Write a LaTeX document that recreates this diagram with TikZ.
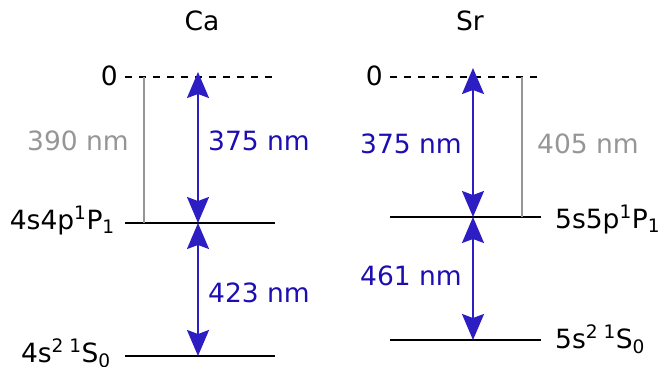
\documentclass[tikz,border=0pt]{standalone}
\usepackage{fontspec}
\setmainfont{DejaVu Sans}
\usetikzlibrary{arrows.meta}
\definecolor{arrblue}{RGB}{45,30,195}
\definecolor{txtblue}{RGB}{28,14,176}
\definecolor{lgray}{RGB}{150,150,150}
\tikzset{
  level/.style={line width=2pt, black},
  zerolevel/.style={line width=1.6pt, black, dash pattern=on 7pt off 7pt},
  trans/.style={line width=2pt, arrblue, >={Stealth[length=26pt,width=22pt,inset=4pt]}, <->},
  grayline/.style={line width=2pt, lgray},
  lbl/.style={inner sep=0pt, font=\fontsize{26.5}{30}\selectfont},
  bluelbl/.style={lbl, text=txtblue},
  graylbl/.style={lbl, text=lgray},
}
\begin{document}
\begin{tikzpicture}[x=1pt,y=-1pt]
\useasboundingbox (0,0) rectangle (659,367);
% ---------- Ca ----------
\node[lbl, anchor=base] (ca) at (202,30) {Ca};
\coordinate (caZl) at (125,77); \coordinate (caZr) at (275,77);
\coordinate (caPl) at (125,223); \coordinate (caPr) at (275,223);
\coordinate (caSl) at (125,356); \coordinate (caSr) at (275,356);
\coordinate (caAtop) at (198,72); \coordinate (caAmid) at (198,223); \coordinate (caAbot) at (198,356);
\coordinate (caGtop) at (144,77); \coordinate (caGbot) at (144,223);
\draw[zerolevel] (caZl) -- (caZr);
\draw[level] (caPl) -- (caPr);
\draw[level] (caSl) -- (caSr);
\draw[grayline] (caGtop) -- (caGbot);
\draw[trans] (caAtop) -- (caAmid);
\draw[trans] (caAmid) -- (caAbot);
\node[lbl, anchor=base east] (caZ) at (118,85) {0};
\node[lbl, anchor=base east] (caP) at (115,229) {4s4p\textsuperscript{1}P\textsubscript{1}};
\node[lbl, anchor=base east] (caS) at (111,362) {4s\textsuperscript{2 1}S\textsubscript{0}};
\node[graylbl, anchor=base east] (ca390) at (129,150) {390 nm};
\node[bluelbl, anchor=base west] (ca375) at (208,150) {375 nm};
\node[bluelbl, anchor=base west] (ca423) at (208,302) {423 nm};
% ---------- Sr ----------
\node[lbl, anchor=base] (sr) at (470,30) {Sr};
\coordinate (srZl) at (390,77); \coordinate (srZr) at (541,77);
\coordinate (srPl) at (390,217); \coordinate (srPr) at (541,217);
\coordinate (srSl) at (390,340); \coordinate (srSr) at (541,340);
\coordinate (srAtop) at (473,68); \coordinate (srAmid) at (473,217); \coordinate (srAbot) at (473,340);
\coordinate (srGtop) at (522,77); \coordinate (srGbot) at (522,217);
\draw[zerolevel] (srZl) -- (srZr);
\draw[level] (srPl) -- (srPr);
\draw[level] (srSl) -- (srSr);
\draw[grayline] (srGtop) -- (srGbot);
\draw[trans] (srAtop) -- (srAmid);
\draw[trans] (srAmid) -- (srAbot);
\node[lbl, anchor=base east] (srZ) at (383,85) {0};
\node[lbl, anchor=base west] (srP) at (555,228) {5s5p\textsuperscript{1}P\textsubscript{1}};
\node[lbl, anchor=base west] (srS) at (555,348) {5s\textsuperscript{2 1}S\textsubscript{0}};
\node[bluelbl, anchor=base west] (sr375) at (360,153) {375 nm};
\node[graylbl, anchor=base west] (sr405) at (537,153) {405 nm};
\node[bluelbl, anchor=base west] (sr461) at (360,285) {461 nm};
\end{tikzpicture}
\end{document}
